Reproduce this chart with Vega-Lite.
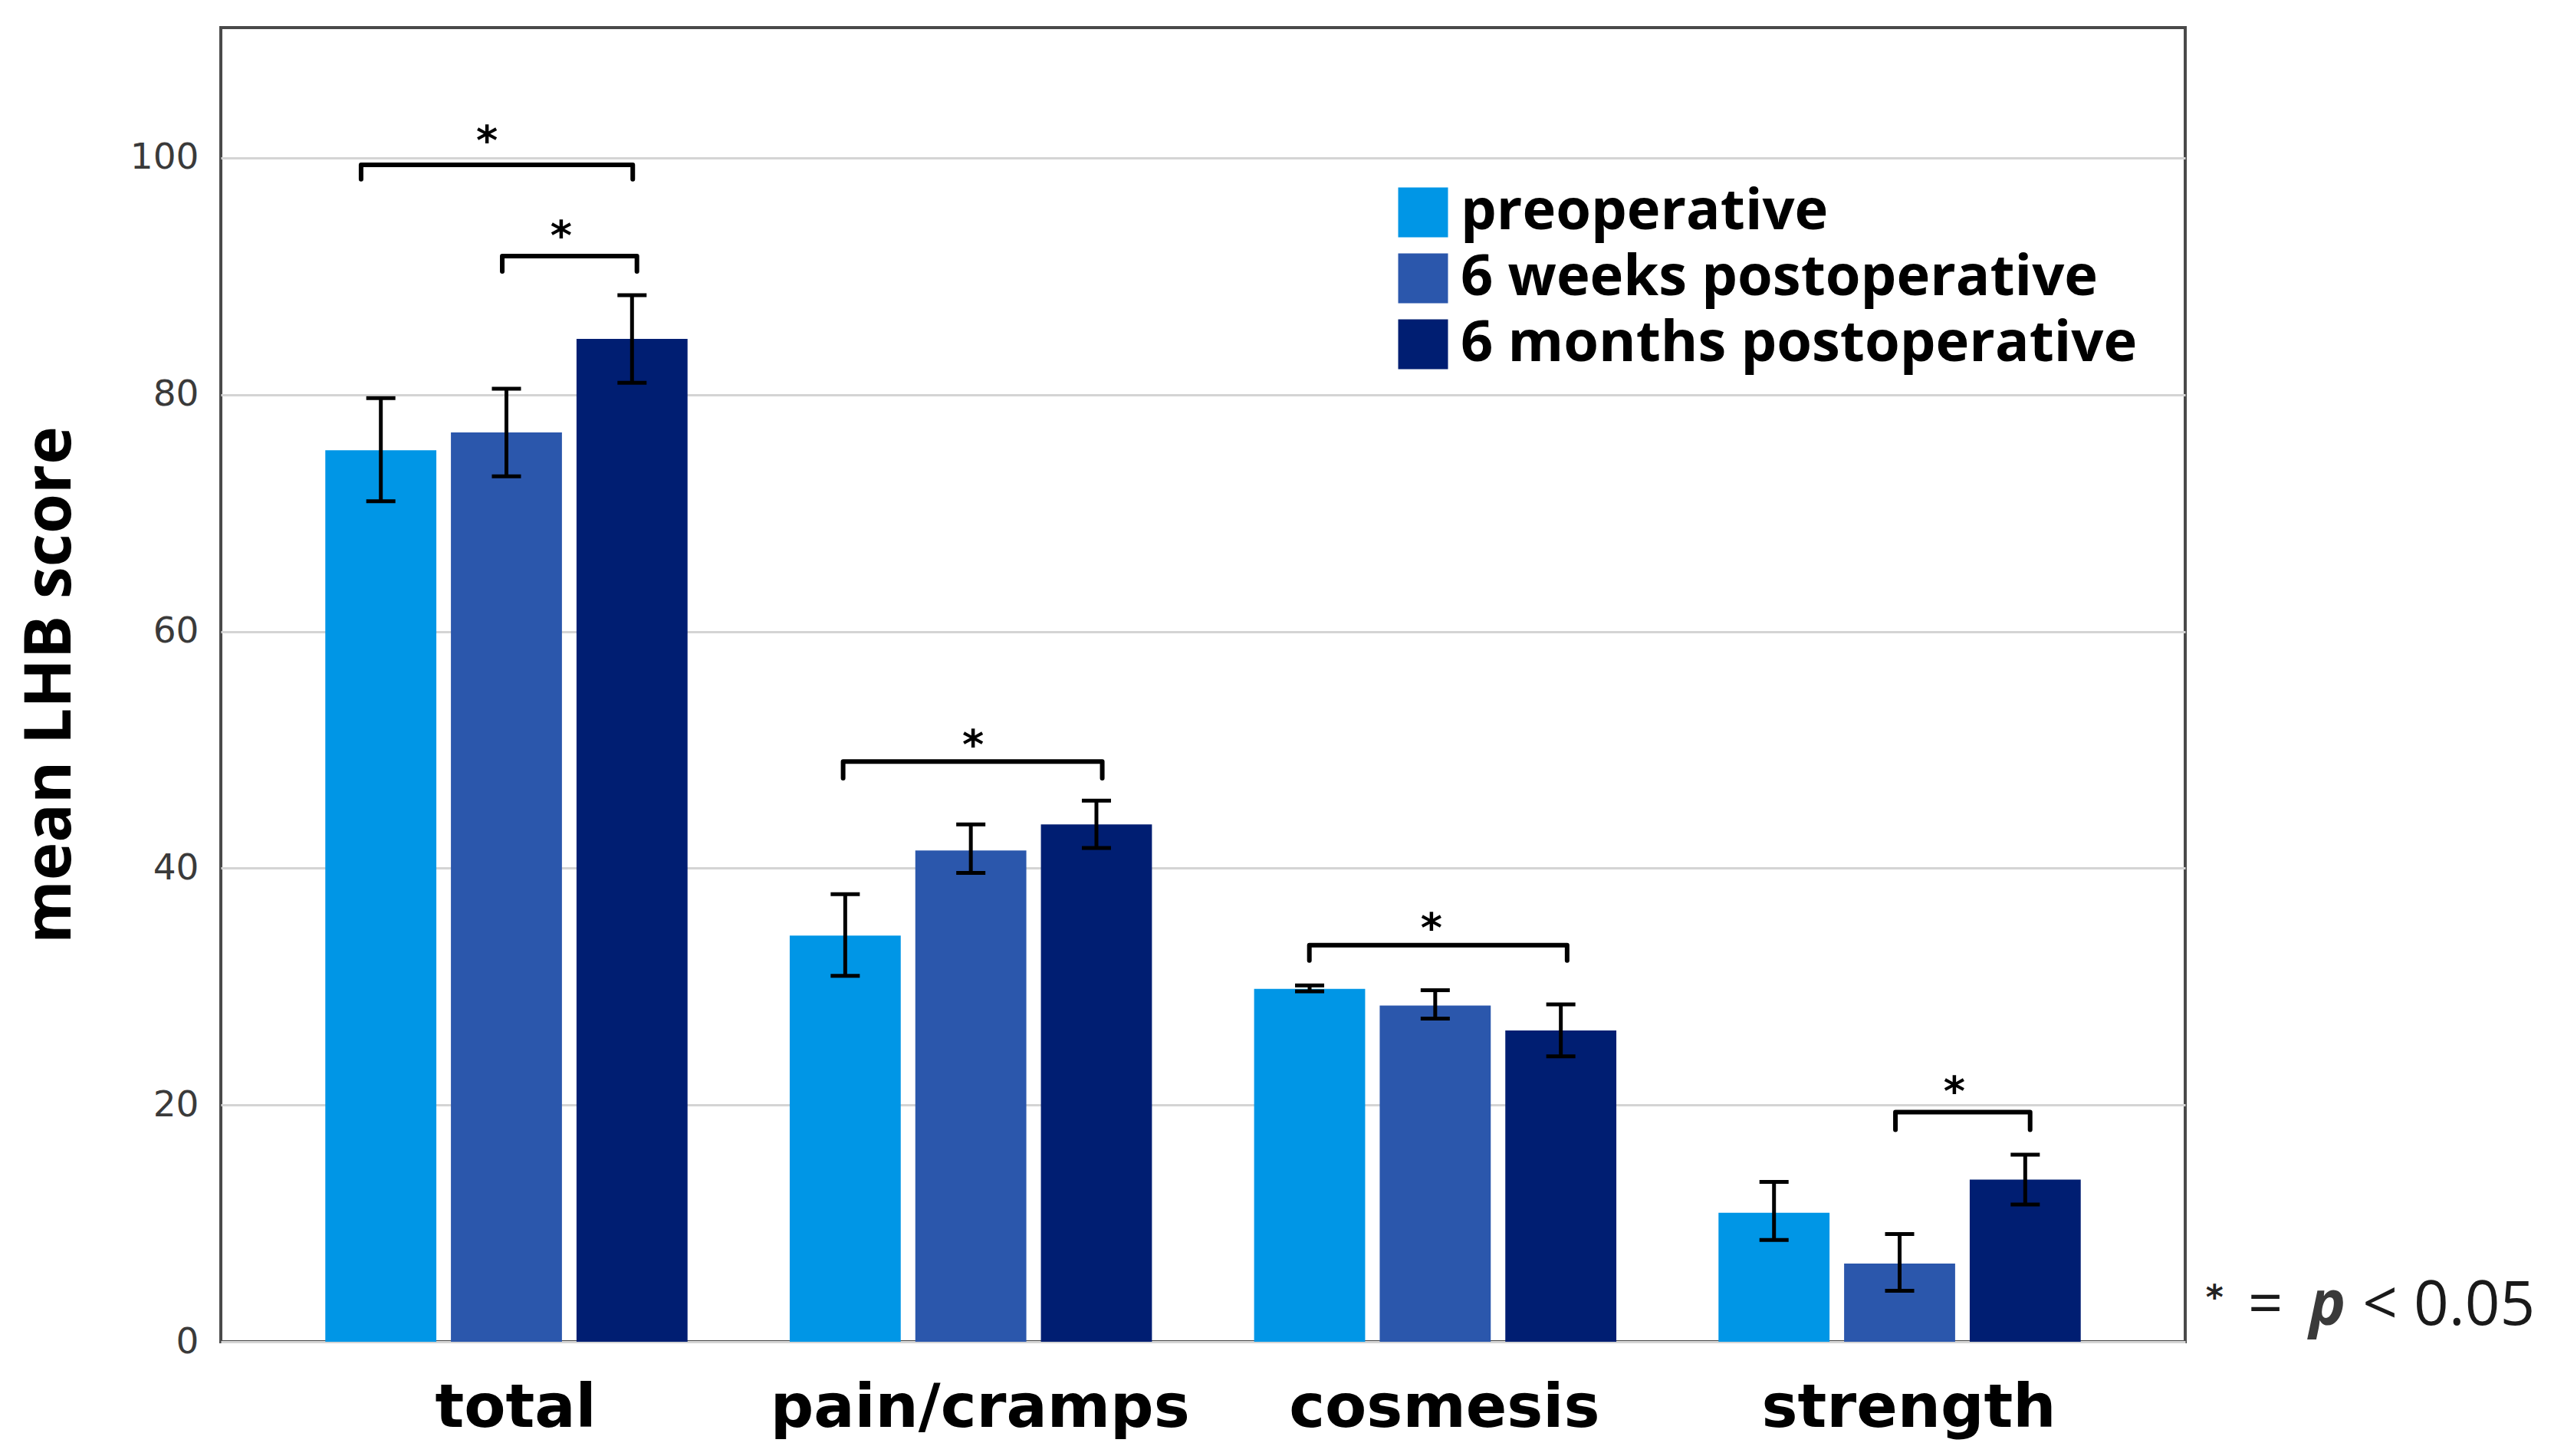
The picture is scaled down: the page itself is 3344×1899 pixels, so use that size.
{
  "$schema": "https://vega.github.io/schema/vega-lite/v6.json",
  "width": 2562,
  "height": 1714,
  "autosize": {"type": "none"},
  "padding": {"left": 288, "top": 36, "right": 494, "bottom": 149},
  "background": "white",
  "config": {"view": {"stroke": "#4a4a4a", "strokeWidth": 4}},
  "datasets": {
    "bars": [
      {"measure": "total", "time": "preoperative", "mean": 75.3, "lo": 71.0, "hi": 79.7},
      {"measure": "total", "time": "6 weeks postoperative", "mean": 76.8, "lo": 73.1, "hi": 80.5},
      {"measure": "total", "time": "6 months postoperative", "mean": 84.7, "lo": 81.0, "hi": 88.4},
      {"measure": "pain/cramps", "time": "preoperative", "mean": 34.3, "lo": 30.9, "hi": 37.8},
      {"measure": "pain/cramps", "time": "6 weeks postoperative", "mean": 41.5, "lo": 39.6, "hi": 43.7},
      {"measure": "pain/cramps", "time": "6 months postoperative", "mean": 43.7, "lo": 41.7, "hi": 45.7},
      {"measure": "cosmesis", "time": "preoperative", "mean": 29.8, "lo": 29.6, "hi": 30.1},
      {"measure": "cosmesis", "time": "6 weeks postoperative", "mean": 28.4, "lo": 27.3, "hi": 29.7},
      {"measure": "cosmesis", "time": "6 months postoperative", "mean": 26.3, "lo": 24.1, "hi": 28.5},
      {"measure": "strength", "time": "preoperative", "mean": 10.9, "lo": 8.6, "hi": 13.5},
      {"measure": "strength", "time": "6 weeks postoperative", "mean": 6.6, "lo": 4.3, "hi": 9.1},
      {"measure": "strength", "time": "6 months postoperative", "mean": 13.7, "lo": 11.6, "hi": 15.8}
    ],
    "brk": [
      {"id": 1, "ord": 1, "px": 0.302, "py": 98.2},
      {"id": 1, "ord": 2, "px": 0.302, "py": 99.4},
      {"id": 1, "ord": 3, "px": 0.887, "py": 99.4},
      {"id": 1, "ord": 4, "px": 0.887, "py": 98.2},
      {"id": 2, "ord": 1, "px": 0.606, "py": 90.4},
      {"id": 2, "ord": 2, "px": 0.606, "py": 91.7},
      {"id": 2, "ord": 3, "px": 0.896, "py": 91.7},
      {"id": 2, "ord": 4, "px": 0.896, "py": 90.4},
      {"id": 3, "ord": 1, "px": 1.340, "py": 47.6},
      {"id": 3, "ord": 2, "px": 1.340, "py": 49.0},
      {"id": 3, "ord": 3, "px": 1.898, "py": 49.0},
      {"id": 3, "ord": 4, "px": 1.898, "py": 47.6},
      {"id": 4, "ord": 1, "px": 2.344, "py": 32.2},
      {"id": 4, "ord": 2, "px": 2.344, "py": 33.5},
      {"id": 4, "ord": 3, "px": 2.899, "py": 33.5},
      {"id": 4, "ord": 4, "px": 2.899, "py": 32.2},
      {"id": 5, "ord": 1, "px": 3.606, "py": 17.9},
      {"id": 5, "ord": 2, "px": 3.606, "py": 19.4},
      {"id": 5, "ord": 3, "px": 3.896, "py": 19.4},
      {"id": 5, "ord": 4, "px": 3.896, "py": 17.9}
    ],
    "stars": [
      {"px": 0.573, "py": 102.3},
      {"px": 0.733, "py": 94.3},
      {"px": 1.620, "py": 51.3},
      {"px": 2.607, "py": 35.8},
      {"px": 3.733, "py": 22.0}
    ],
    "note": [
      {"part": "star", "t": "*", "px": 4.293, "py": 4.5},
      {"part": "eq", "t": "=", "px": 4.365, "py": 1.4},
      {"part": "p", "t": "p", "px": 4.497, "py": 1.4},
      {"part": "lt", "t": "< 0.05", "px": 4.612, "py": 1.4}
    ]
  },
  "layer": [
    {
      "data": {"name": "bars"},
      "encoding": {
        "x": {
          "field": "measure",
          "type": "nominal",
          "sort": ["total", "pain/cramps", "cosmesis", "strength"],
          "scale": {"paddingInner": 0.22, "paddingOuter": 0.225},
          "axis": {
            "title": null,
            "labelFont": "DejaVu Sans",
            "labelFontSize": 79,
            "labelFontWeight": "bold",
            "labelColor": "black",
            "labelAngle": 0,
            "labelLimit": 2000,
            "labelOffset": 12,
            "ticks": false,
            "domain": false,
            "labelPadding": 48
          }
        },
        "xOffset": {
          "field": "time",
          "type": "nominal",
          "sort": ["preoperative", "6 weeks postoperative", "6 months postoperative"],
          "scale": {"paddingInner": 0.116, "paddingOuter": 0}
        }
      },
      "layer": [
        {
          "mark": {"type": "bar"},
          "encoding": {
            "y": {
              "field": "mean",
              "type": "quantitative",
              "scale": {"domain": [0, 111], "nice": false},
              "axis": {
                "values": [0, 20, 40, 60, 80, 100],
                "title": "mean LHB score",
                "titleFont": "Open Sans",
                "titleFontSize": 84,
                "titleFontWeight": "bold",
                "titleColor": "black",
                "titlePadding": 60,
                "labelFont": "DejaVu Sans",
                "labelFontSize": 47,
                "labelColor": "#3a3a3a",
                "labelPadding": 29,
                "ticks": false,
                "domain": false,
                "gridColor": "#d4d4d4",
                "gridWidth": 3
              }
            },
            "color": {
              "field": "time",
              "type": "nominal",
              "scale": {
                "domain": ["preoperative", "6 weeks postoperative", "6 months postoperative"],
                "range": ["#0096E6", "#2B57AC", "#001E72"]
              },
              "legend": {
                "title": null,
                "orient": "none",
                "legendX": 1531,
                "legendY": 204,
                "symbolType": "square",
                "symbolSize": 4225,
                "symbolStrokeWidth": 0,
                "symbolOpacity": 1,
                "labelFont": "Open Sans",
                "labelFontSize": 74,
                "labelFontWeight": "bold",
                "labelColor": "black",
                "labelLimit": 2000,
                "labelOffset": 12,
                "rowPadding": 12,
                "padding": 0
              }
            }
          }
        },
        {
          "mark": {"type": "rule", "color": "black", "strokeWidth": 5},
          "encoding": {
            "y": {"field": "lo", "type": "quantitative", "title": "mean LHB score"},
            "y2": {"field": "hi"}
          }
        },
        {
          "mark": {"type": "tick", "color": "black", "thickness": 5, "size": 38, "opacity": 1},
          "encoding": {"y": {"field": "hi", "type": "quantitative", "title": "mean LHB score"}}
        },
        {
          "mark": {"type": "tick", "color": "black", "thickness": 5, "size": 38, "opacity": 1},
          "encoding": {"y": {"field": "lo", "type": "quantitative", "title": "mean LHB score"}}
        }
      ]
    },
    {
      "layer": [
        {
          "data": {"name": "brk"},
          "mark": {"type": "line", "color": "black", "strokeWidth": 6, "strokeJoin": "round", "strokeCap": "round"},
          "encoding": {
            "x": {"field": "px", "type": "quantitative", "scale": {"domain": [0, 4.23], "nice": false, "zero": false}, "axis": null},
            "y": {"field": "py", "type": "quantitative", "title": "mean LHB score"},
            "detail": {"field": "id"},
            "order": {"field": "ord"}
          }
        },
        {
          "data": {"name": "stars"},
          "mark": {"type": "text", "text": "*", "font": "DejaVu Sans", "fontWeight": "bold", "fontSize": 54, "color": "black", "align": "center", "baseline": "alphabetic", "dy": 32},
          "encoding": {
            "x": {"field": "px", "type": "quantitative"},
            "y": {"field": "py", "type": "quantitative", "title": "mean LHB score"}
          }
        },
        {
          "data": {"name": "note"},
          "transform": [{"filter": "datum.part == 'star'"}],
          "mark": {"type": "text", "font": "DejaVu Sans", "fontWeight": "bold", "fontSize": 44, "color": "#222222", "align": "center", "baseline": "alphabetic", "dy": 26},
          "encoding": {
            "x": {"field": "px", "type": "quantitative"},
            "y": {"field": "py", "type": "quantitative", "title": "mean LHB score"},
            "text": {"field": "t"}
          }
        },
        {
          "data": {"name": "note"},
          "transform": [{"filter": "datum.part == 'eq' || datum.part == 'lt'"}],
          "mark": {"type": "text", "font": "Open Sans", "fontSize": 80, "color": "#1a1a1a", "align": "left", "baseline": "alphabetic"},
          "encoding": {
            "x": {"field": "px", "type": "quantitative"},
            "y": {"field": "py", "type": "quantitative", "title": "mean LHB score"},
            "text": {"field": "t"}
          }
        },
        {
          "data": {"name": "note"},
          "transform": [{"filter": "datum.part == 'p'"}],
          "mark": {"type": "text", "font": "Open Sans", "fontSize": 80, "fontWeight": "bold", "fontStyle": "italic", "color": "#3a3a3a", "align": "left", "baseline": "alphabetic"},
          "encoding": {
            "x": {"field": "px", "type": "quantitative"},
            "y": {"field": "py", "type": "quantitative", "title": "mean LHB score"},
            "text": {"field": "t"}
          }
        }
      ]
    }
  ],
  "resolve": {"scale": {"x": "independent"}}
}
